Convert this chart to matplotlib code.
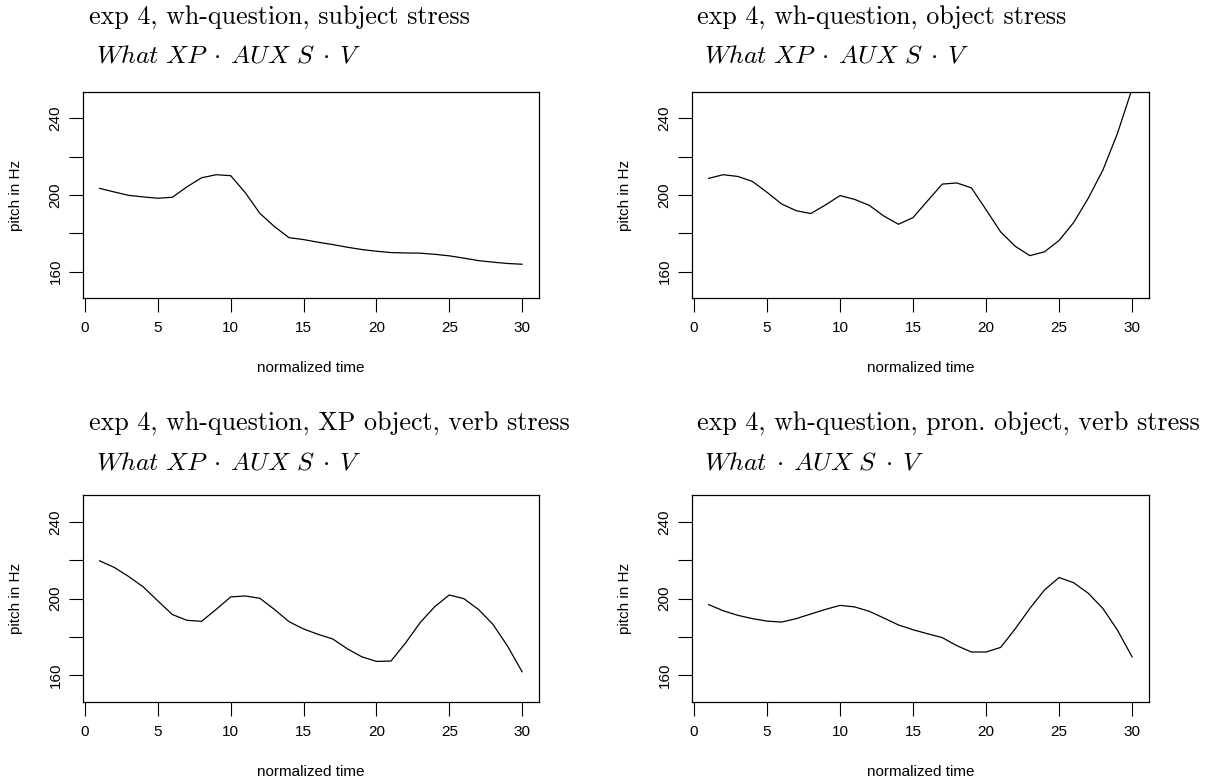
import matplotlib
matplotlib.use("Agg")
import matplotlib.pyplot as plt
import numpy as np

plt.rcParams['mathtext.fontset'] = 'cm'
plt.rcParams['font.family'] = ['Liberation Sans', 'DejaVu Sans']

time = list(range(1, 31))

subject_stress = [203.5, 201.6, 199.8, 199.0, 198.3, 198.8, 204.3, 209.0, 210.6, 210.1,
                  201.2, 190.4, 183.5, 177.7, 176.7, 175.3, 174.1, 172.7, 171.5, 170.6,
                  169.9, 169.7, 169.6, 169.0, 168.2, 167.0, 165.7, 164.9, 164.2, 163.8]
object_stress = [208.7, 210.6, 209.7, 207.1, 201.4, 195.3, 191.8, 190.3, 194.8, 199.7,
                 197.7, 194.6, 189.0, 184.7, 188.2, 197.0, 205.7, 206.3, 203.7, 192.3,
                 180.7, 173.2, 168.3, 170.3, 176.2, 185.6, 198.3, 213.0, 232.2, 255.5]
xp_verb_stress = [219.7, 216.3, 211.5, 206.1, 198.8, 191.7, 188.7, 188.2, 194.4, 200.9,
                  201.4, 200.2, 194.4, 188.0, 184.2, 181.4, 179.0, 173.9, 169.7, 167.3,
                  167.5, 176.9, 187.5, 195.8, 201.9, 200.0, 194.4, 186.6, 175.3, 161.9]
pron_verb_stress = [196.9, 193.7, 191.3, 189.6, 188.3, 187.8, 189.6, 192.0, 194.4, 196.5,
                    195.7, 193.4, 189.9, 186.3, 183.8, 181.7, 179.7, 175.5, 172.2, 172.2,
                    174.6, 184.3, 194.9, 204.5, 211.0, 208.3, 202.8, 194.9, 183.6, 169.7]

titles = ["exp 4, wh-question, subject stress",
          "exp 4, wh-question, object stress",
          "exp 4, wh-question, XP object, verb stress",
          "exp 4, wh-question, pron. object, verb stress"]
subtitles = [r"$What\ XP\;\cdot\:AUX\ S\;\cdot\:V$",
             r"$What\ XP\;\cdot\:AUX\ S\;\cdot\:V$",
             r"$What\ XP\;\cdot\:AUX\ S\;\cdot\:V$",
             r"$What\;\cdot\:AUX\ S\;\cdot\:V$"]
series = [subject_stress, object_stress, xp_verb_stress, pron_verb_stress]

xticks = [0, 5, 10, 15, 20, 25, 30]
yticks = [160, 180, 200, 220, 240]
yticklabels = ["160", "", "200", "", "240"]

W, H = 1217, 778
fig = plt.figure(figsize=(W / 100, H / 100), dpi=100)

# axes boxes in pixels: (left, top, right, bottom)
boxes = [(82.7, 91.7, 539.0, 298.3),
         (691.7, 91.7, 1149.0, 298.3),
         (82.7, 495.0, 539.0, 702.3),
         (691.7, 495.0, 1149.0, 702.3)]
title_pos = [(89, 23.5, 96.5, 62.5),
             (697, 23.5, 704.5, 62.5),
             (89, 429.5, 96.5, 469),
             (697, 429.5, 704.5, 469)]

for i in range(4):
    l, t, r, b = boxes[i]
    ax = fig.add_axes([l / W, 1 - b / H, (r - l) / W, (b - t) / H])
    ax.plot(time, series[i], color='black', lw=0.9)
    ax.set_xlim(1 - 0.04 * 29, 30 + 0.04 * 29)
    ax.set_ylim(146, 254)
    ax.set_xticks(xticks)
    ax.set_yticks(yticks)
    ax.set_yticklabels(yticklabels, rotation=90, va='center')
    ax.tick_params(axis='both', direction='out', length=10, width=0.8,
                   labelsize=11, colors='black')
    ax.tick_params(axis='x', pad=6.7)
    ax.tick_params(axis='y', pad=4.4)
    for s in ax.spines.values():
        s.set_linewidth(0.9)
    ax.set_xlabel("normalized time", fontsize=11, labelpad=18.5)
    ax.set_ylabel("pitch in Hz", fontsize=11, labelpad=18.5)

    x1, y1, x2, y2 = title_pos[i]
    fig.text(x1 / W, 1 - y1 / H, titles[i], family='cmr10', fontsize=18.7,
             ha='left', va='baseline')
    fig.text(x2 / W, 1 - y2 / H, subtitles[i], fontsize=18.5,
             ha='left', va='baseline')

fig.savefig("out.png", dpi=100)
